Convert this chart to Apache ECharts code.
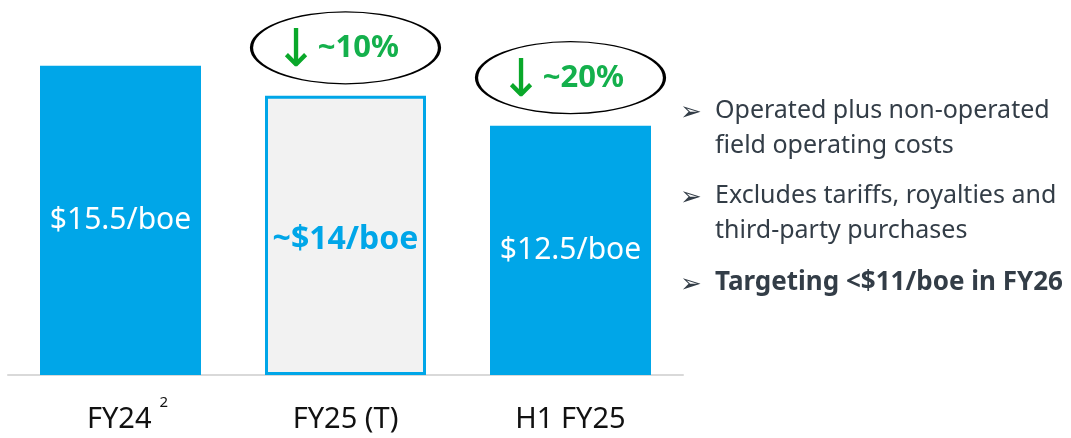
<!DOCTYPE html>
<html>
<head>
<meta charset="utf-8">
<script src="https://cdn.jsdelivr.net/npm/echarts@6/dist/echarts.min.js"></script>
<style>
  html, body { margin: 0; padding: 0; background: #fff; }
  #chart { width: 1071px; height: 438px; }
</style>
</head>
<body>
<div id="chart"></div>
<script>
// data
const categories = ["FY24", "FY25 (T)", "H1 FY25"];
const footnotes = ["2", "", ""];
const costs = [15.5, 14, 12.5]; // $/boe
const costLabels = ["$15.5/boe", "~$14/boe", "$12.5/boe"];
const reductions = [null, "~10%", "~20%"]; // vs FY24
const notes = [
  ["Operated plus non-operated", "field operating costs"],
  ["Excludes tariffs, royalties and", "third-party purchases"],
  ["Targeting <$11/boe in FY26"],
];

const blue = "#00a6e8";
const green = "#14b04c";
const font = "'Noto Sans', 'Open Sans', sans-serif";

const chart = echarts.init(document.getElementById("chart"));

const barData = costs.map((v, i) => {
  const item = { value: v, label: { formatter: costLabels[i] } };
  if (i === 1) {
    // target year: hollow bar, blue bold label
    item.itemStyle = { color: "#f2f2f2", borderColor: blue, borderWidth: 3 };
    item.label.color = blue;
    item.label.fontWeight = "bold";
    item.label.fontSize = 32;
    item.label.offset = [0, 5];
  }
  return item;
});

const marks = [];
reductions.forEach((r, i) => {
  if (!r) return;
  marks.push({
    coord: [categories[i], costs[i]],
    value: r,
  });
});

// bullet notes on the right
const noteY = [[115, 150], [200, 235], [287]];
const graphics = [];
notes.forEach((lines, i) => {
  graphics.push({
    type: "text",
    left: 680,
    top: noteY[i][0] - 15,
    style: { text: "➢", font: "26px 'DejaVu Sans'", fill: "#333d47" },
  });
  lines.forEach((t, j) => {
    graphics.push({
      type: "text",
      left: 715,
      top: noteY[i][j] - 17,
      style: {
        text: t,
        font: (i === 2 ? "bold 26px " : "25px ") + font,
        fill: "#333d47",
      },
    });
  });
});

chart.setOption({
  animation: false,
  grid: { left: 8, right: 388, top: 16, bottom: 63, outerBoundsMode: "none" },
  xAxis: {
    type: "category",
    data: categories,
    axisLine: { lineStyle: { color: "#d9d9d9", width: 2 } },
    axisTick: { show: false },
    axisLabel: {
      interval: 0,
      margin: 20,
      color: "#111",
      formatter: (v, idx) => {
        const fn = footnotes[idx];
        return fn ? "{pad|}{b|" + v + "}{sup|" + fn + "}" : "{b|" + v + "}";
      },
      rich: {
        b: { fontSize: 29, lineHeight: 50, fontFamily: font, color: "#111" },
        pad: { width: 14, lineHeight: 50 },
        sup: { fontSize: 15, lineHeight: 15, verticalAlign: "top", padding: [0, 0, 0, 8], color: "#111", fontFamily: font },
      },
    },
  },
  yAxis: { type: "value", min: 0, max: 18, show: false },
  graphic: graphics,
  series: [
    {
      type: "bar",
      barWidth: 161,
      itemStyle: { color: blue },
      label: {
        show: true,
        position: "inside",
        color: "#fff",
        fontSize: 30,
        fontFamily: font,
      },
      data: barData,
      markPoint: {
        symbol: "circle",
        symbolSize: [188, 72],
        symbolOffset: [0, -48],
        itemStyle: { color: "rgba(0,0,0,0)", borderColor: "#000", borderWidth: 2 },
        label: {
          show: true,
          position: "inside",
          formatter: (p) => "{a|↓}{p|" + p.value + "}",
          rich: {
            a: { fontSize: 52, color: "#0aa82a", fontFamily: "'DejaVu Sans'", padding: [10, 0, 0, 0] },
            p: { fontSize: 31, fontWeight: "bold", color: green, fontFamily: font, padding: [0, 18, 0, 0] },
          },
        },
        data: marks,
      },
    },
  ],
});
</script>
</body>
</html>
